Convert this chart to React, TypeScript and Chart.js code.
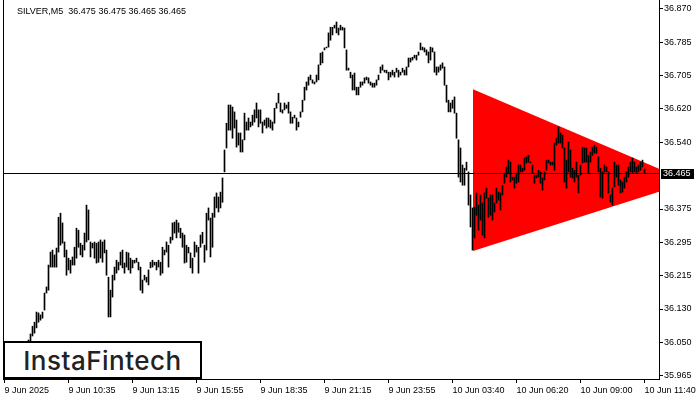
import React, { useEffect, useRef } from "react";
import { Chart, registerables } from "chart.js";

Chart.register(...registerables);

const symbolTitle = "SILVER,M5  36.475 36.475 36.465 36.465";
const logoText = "InstaFintech";

const highs = [
  36.004, 35.999, 36.008, 36.016, 36.011, 36.023, 36.028, 36.021, 36.033, 36.038,
  36.041, 36.048, 36.053, 36.068, 36.087, 36.097, 36.122, 36.120, 36.115, 36.122,
  36.169, 36.184, 36.238, 36.270, 36.275, 36.263, 36.280, 36.356, 36.366, 36.342,
  36.295, 36.275, 36.255, 36.250, 36.258, 36.282, 36.329, 36.324, 36.292, 36.287,
  36.317, 36.386, 36.374, 36.295, 36.292, 36.295, 36.292, 36.295, 36.300, 36.295,
  36.300, 36.275, 36.208, 36.176, 36.213, 36.233, 36.250, 36.245, 36.270, 36.275,
  36.243, 36.270, 36.268, 36.255, 36.250, 36.250, 36.255, 36.245, 36.233, 36.201,
  36.213, 36.208, 36.226, 36.245, 36.250, 36.245, 36.245, 36.250, 36.245, 36.282,
  36.275, 36.295, 36.287, 36.307, 36.342, 36.344, 36.349, 36.342, 36.329, 36.317,
  36.312, 36.287, 36.282, 36.268, 36.255, 36.295, 36.287, 36.282, 36.312, 36.319,
  36.287, 36.366, 36.379, 36.354, 36.366, 36.406, 36.416, 36.406, 36.418, 36.453,
  36.522, 36.588, 36.633, 36.633, 36.628, 36.616, 36.596, 36.564, 36.564, 36.547,
  36.613, 36.591, 36.601, 36.591, 36.608, 36.621, 36.638, 36.621, 36.621, 36.591,
  36.596, 36.601, 36.601, 36.596, 36.591, 36.625, 36.638, 36.662, 36.638, 36.621,
  36.638, 36.633, 36.640, 36.616, 36.603, 36.608, 36.601, 36.591, 36.616, 36.645,
  36.677, 36.690, 36.702, 36.707, 36.695, 36.690, 36.707, 36.732, 36.761, 36.764,
  36.774, 36.776, 36.811, 36.825, 36.825, 36.830, 36.838, 36.823, 36.830, 36.825,
  36.823, 36.769, 36.724, 36.714, 36.707, 36.712, 36.677, 36.677, 36.690, 36.690,
  36.700, 36.702, 36.700, 36.690, 36.687, 36.687, 36.695, 36.707, 36.727, 36.732,
  36.719, 36.719, 36.714, 36.714, 36.719, 36.714, 36.724, 36.719, 36.714, 36.724,
  36.719, 36.727, 36.749, 36.749, 36.751, 36.756, 36.756, 36.764, 36.786, 36.776,
  36.774, 36.769, 36.764, 36.776, 36.774, 36.764, 36.727, 36.727, 36.732, 36.737,
  36.727, 36.682, 36.645, 36.638, 36.645, 36.653, 36.613, 36.547, 36.527, 36.485,
  36.477, 36.492, 36.468, 36.411, 36.379, 36.381, 36.416, 36.386, 36.411, 36.391,
  36.416, 36.428, 36.403, 36.411, 36.411, 36.391, 36.428, 36.418, 36.416, 36.435,
  36.465, 36.480, 36.497, 36.492, 36.455, 36.455, 36.465, 36.485, 36.485, 36.477,
  36.502, 36.505, 36.509, 36.492, 36.485, 36.460, 36.460, 36.472, 36.468, 36.453,
  36.468, 36.497, 36.497, 36.492, 36.492, 36.539, 36.551, 36.579, 36.564, 36.559,
  36.527, 36.497, 36.542, 36.522, 36.477, 36.472, 36.492, 36.460, 36.485, 36.529,
  36.527, 36.527, 36.509, 36.517, 36.529, 36.534, 36.529, 36.505, 36.477, 36.468,
  36.485, 36.480, 36.468, 36.411, 36.428, 36.492, 36.485, 36.485, 36.448, 36.443,
  36.455, 36.468, 36.480, 36.492, 36.502, 36.492, 36.480, 36.485, 36.492, 36.497,
  36.475,
];

const lows = [
  35.974, 35.979, 35.984, 35.991, 35.989, 35.999, 36.004, 35.999, 36.008, 36.013,
  36.018, 36.023, 36.028, 36.033, 36.063, 36.070, 36.083, 36.097, 36.102, 36.107,
  36.127, 36.169, 36.176, 36.233, 36.233, 36.233, 36.233, 36.270, 36.287, 36.292,
  36.258, 36.213, 36.226, 36.218, 36.238, 36.238, 36.255, 36.282, 36.263, 36.258,
  36.275, 36.295, 36.300, 36.258, 36.280, 36.255, 36.243, 36.245, 36.255, 36.245,
  36.268, 36.213, 36.110, 36.110, 36.159, 36.201, 36.218, 36.226, 36.238, 36.231,
  36.218, 36.233, 36.226, 36.218, 36.231, 36.243, 36.245, 36.226, 36.176, 36.169,
  36.201, 36.196, 36.189, 36.231, 36.233, 36.238, 36.226, 36.233, 36.213, 36.218,
  36.263, 36.270, 36.233, 36.292, 36.300, 36.317, 36.305, 36.319, 36.305, 36.282,
  36.243, 36.245, 36.268, 36.231, 36.218, 36.258, 36.270, 36.218, 36.282, 36.292,
  36.245, 36.275, 36.349, 36.258, 36.282, 36.356, 36.379, 36.369, 36.379, 36.393,
  36.468, 36.527, 36.571, 36.571, 36.551, 36.576, 36.529, 36.534, 36.517, 36.517,
  36.547, 36.571, 36.571, 36.579, 36.583, 36.591, 36.601, 36.579, 36.588, 36.564,
  36.583, 36.576, 36.579, 36.576, 36.571, 36.588, 36.625, 36.638, 36.616, 36.613,
  36.621, 36.625, 36.613, 36.588, 36.588, 36.601, 36.571, 36.579, 36.603, 36.616,
  36.645, 36.670, 36.682, 36.695, 36.687, 36.685, 36.690, 36.695, 36.732, 36.737,
  36.769, 36.774, 36.776, 36.793, 36.806, 36.823, 36.811, 36.806, 36.818, 36.818,
  36.774, 36.719, 36.719, 36.700, 36.670, 36.670, 36.658, 36.658, 36.677, 36.682,
  36.687, 36.695, 36.687, 36.682, 36.677, 36.677, 36.682, 36.695, 36.712, 36.719,
  36.714, 36.712, 36.695, 36.702, 36.707, 36.702, 36.714, 36.702, 36.707, 36.714,
  36.707, 36.707, 36.727, 36.739, 36.744, 36.749, 36.744, 36.756, 36.769, 36.769,
  36.764, 36.756, 36.737, 36.744, 36.764, 36.714, 36.707, 36.714, 36.719, 36.724,
  36.682, 36.640, 36.616, 36.616, 36.625, 36.613, 36.551, 36.455, 36.443, 36.435,
  36.435, 36.472, 36.386, 36.332, 36.275, 36.305, 36.361, 36.324, 36.349, 36.312,
  36.305, 36.403, 36.356, 36.361, 36.349, 36.369, 36.391, 36.398, 36.374, 36.411,
  36.440, 36.455, 36.465, 36.443, 36.448, 36.428, 36.440, 36.443, 36.468, 36.468,
  36.472, 36.490, 36.492, 36.490, 36.465, 36.440, 36.453, 36.455, 36.440, 36.423,
  36.448, 36.472, 36.490, 36.485, 36.485, 36.472, 36.534, 36.539, 36.539, 36.527,
  36.443, 36.428, 36.468, 36.455, 36.453, 36.443, 36.455, 36.416, 36.460, 36.490,
  36.492, 36.492, 36.465, 36.492, 36.509, 36.514, 36.514, 36.468, 36.406, 36.403,
  36.468, 36.468, 36.416, 36.393, 36.386, 36.431, 36.455, 36.435, 36.416, 36.418,
  36.428, 36.443, 36.455, 36.468, 36.465, 36.468, 36.465, 36.468, 36.472, 36.480,
  36.465,
];

const xTickLabels = [
  "9 Jun 2025", "9 Jun 10:35", "9 Jun 13:15", "9 Jun 15:55", "9 Jun 18:35",
  "9 Jun 21:15", "9 Jun 23:55", "10 Jun 03:40", "10 Jun 06:20", "10 Jun 09:00",
  "10 Jun 11:40",
];
const barsPerXTick = 32;

const yTickLabels = [
  "36.870", "36.785", "36.705", "36.620", "36.540", "", "36.375",
  "36.295", "36.215", "36.130", "36.050", "35.965",
];
const yTickTop = 36.87;
const yTickBottom = 35.965;

const currentPrice = 36.465;
const currentPriceLabel = "36.465";

const triangleX = [234.25, 342.75];
const triangleUpper = [36.672, 36.443];
const triangleLower = [36.273, 36.443];

const FONT = "'Liberation Sans', Arial, sans-serif";

const yStep = (yTickTop - yTickBottom) / (yTickLabels.length - 1);

const overlayPlugin = {
  id: "mt4Overlay",
  afterDatasetsDraw(chart: any) {
    const { ctx, chartArea, scales } = chart;
    const y = Math.round(scales.y.getPixelForValue(currentPrice)) + 0.5;
    ctx.save();
    ctx.strokeStyle = "#000";
    ctx.lineWidth = 1;
    ctx.beginPath();
    ctx.moveTo(chartArea.left, y);
    ctx.lineTo(chartArea.right, y);
    ctx.stroke();
    ctx.beginPath();
    ctx.moveTo(chartArea.left + 0.5, chartArea.top);
    ctx.lineTo(chartArea.left + 0.5, chartArea.bottom);
    ctx.stroke();
    ctx.restore();
  },
  afterDraw(chart: any) {
    const { ctx, chartArea, scales } = chart;
    const y = Math.round(scales.y.getPixelForValue(currentPrice));
    ctx.save();
    ctx.fillStyle = "#000";
    ctx.fillRect(chartArea.right + 2, y - 4, 33, 10);
    ctx.fillStyle = "#fff";
    ctx.font = `9px ${FONT}`;
    ctx.textBaseline = "middle";
    ctx.textAlign = "left";
    ctx.fillText(currentPriceLabel, chartArea.right + 4, y + 1);
    ctx.fillStyle = "#000";
    ctx.textBaseline = "alphabetic";
    ctx.fillText(symbolTitle, 17, 14);
    ctx.restore();
  },
};

export default function App() {
  const canvasRef = useRef<HTMLCanvasElement | null>(null);

  useEffect(() => {
    document.body.style.margin = "0";
    const canvas = canvasRef.current;
    if (!canvas) return;

    const barData = highs.map((h, i) => ({ x: i, y: [lows[i], h] }));
    const upperData = triangleX.map((x, k) => ({ x, y: triangleUpper[k] }));
    const lowerData = triangleX.map((x, k) => ({ x, y: triangleLower[k] }));

    const chart = new Chart(canvas, {
      type: "bar",
      data: {
        datasets: [
          {
            type: "bar",
            data: barData as any,
            backgroundColor: "#000",
            borderWidth: 0,
            barThickness: 1,
            grouped: false,
            order: 0,
          } as any,
          {
            type: "line",
            data: upperData as any,
            borderWidth: 0,
            borderColor: "rgba(0,0,0,0)",
            pointRadius: 0,
            fill: "+1",
            backgroundColor: "#ff0000",
            order: 1,
          } as any,
          {
            type: "line",
            data: lowerData as any,
            borderWidth: 0,
            borderColor: "rgba(0,0,0,0)",
            pointRadius: 0,
            fill: false,
            order: 2,
          } as any,
        ],
      },
      options: {
        animation: false,
        responsive: false,
        events: [],
        layout: { padding: { left: 3, top: 0, right: 0, bottom: 0 } },
        plugins: {
          legend: { display: false },
          tooltip: { enabled: false },
          title: { display: false },
        },
        scales: {
          x: {
            type: "linear",
            min: -0.75,
            max: 327.25,
            offset: false,
            grid: {
              offset: false,
              drawOnChartArea: false,
              drawTicks: true,
              tickLength: 4,
              color: "#000",
              tickColor: "#000",
            },
            border: { display: true, color: "#000" },
            afterBuildTicks: (scale: any) => {
              scale.ticks = xTickLabels.map((_, k) => ({ value: k * barsPerXTick }));
            },
            afterFit: (scale: any) => {
              scale.height = 21;
              scale.paddingLeft = 0;
              scale.paddingRight = 0;
            },
            ticks: {
              autoSkip: false,
              maxRotation: 0,
              minRotation: 0,
              align: "start",
              padding: 2,
              color: "#000",
              font: { family: FONT, size: 9 },
              callback: (value: any) => xTickLabels[Math.round(Number(value) / barsPerXTick)] ?? "",
            },
          },
          y: {
            type: "linear",
            position: "right",
            min: 35.9568,
            max: 36.8922,
            grid: {
              drawOnChartArea: false,
              drawTicks: true,
              tickLength: 4,
              color: "#000",
              tickColor: "#000",
            },
            border: { display: true, color: "#000" },
            afterBuildTicks: (scale: any) => {
              scale.ticks = yTickLabels
                .map((label, k) => ({ value: yTickTop - k * yStep, label }))
                .filter((t) => t.label !== "")
                .map((t) => ({ value: t.value }));
            },
            afterFit: (scale: any) => {
              scale.width = 41;
              scale.paddingTop = 0;
              scale.paddingBottom = 0;
            },
            ticks: {
              padding: 1,
              color: "#000",
              font: { family: FONT, size: 9 },
              callback: (value: any) => yTickLabels[Math.round((yTickTop - Number(value)) / yStep)] ?? "",
            },
          },
        },
      } as any,
      plugins: [overlayPlugin],
    });

    return () => chart.destroy();
  }, []);

  return (
    <div style={{ position: "relative", width: 700, height: 400, background: "#fff" }}>
      <canvas ref={canvasRef} width={700} height={400} style={{ width: 700, height: 400, display: "block" }} />
      <div
        style={{
          position: "absolute",
          left: 3,
          top: 341,
          width: 199,
          height: 38,
          boxSizing: "border-box",
          border: "2px solid #000",
          background: "#fff",
          display: "flex",
          alignItems: "center",
          justifyContent: "center",
          fontFamily: "Inter, 'Open Sans', sans-serif",
          fontWeight: 500,
          fontSize: 26,
          letterSpacing: 0.5,
          color: "#222",
        }}
      >
        {logoText}
      </div>
    </div>
  );
}
